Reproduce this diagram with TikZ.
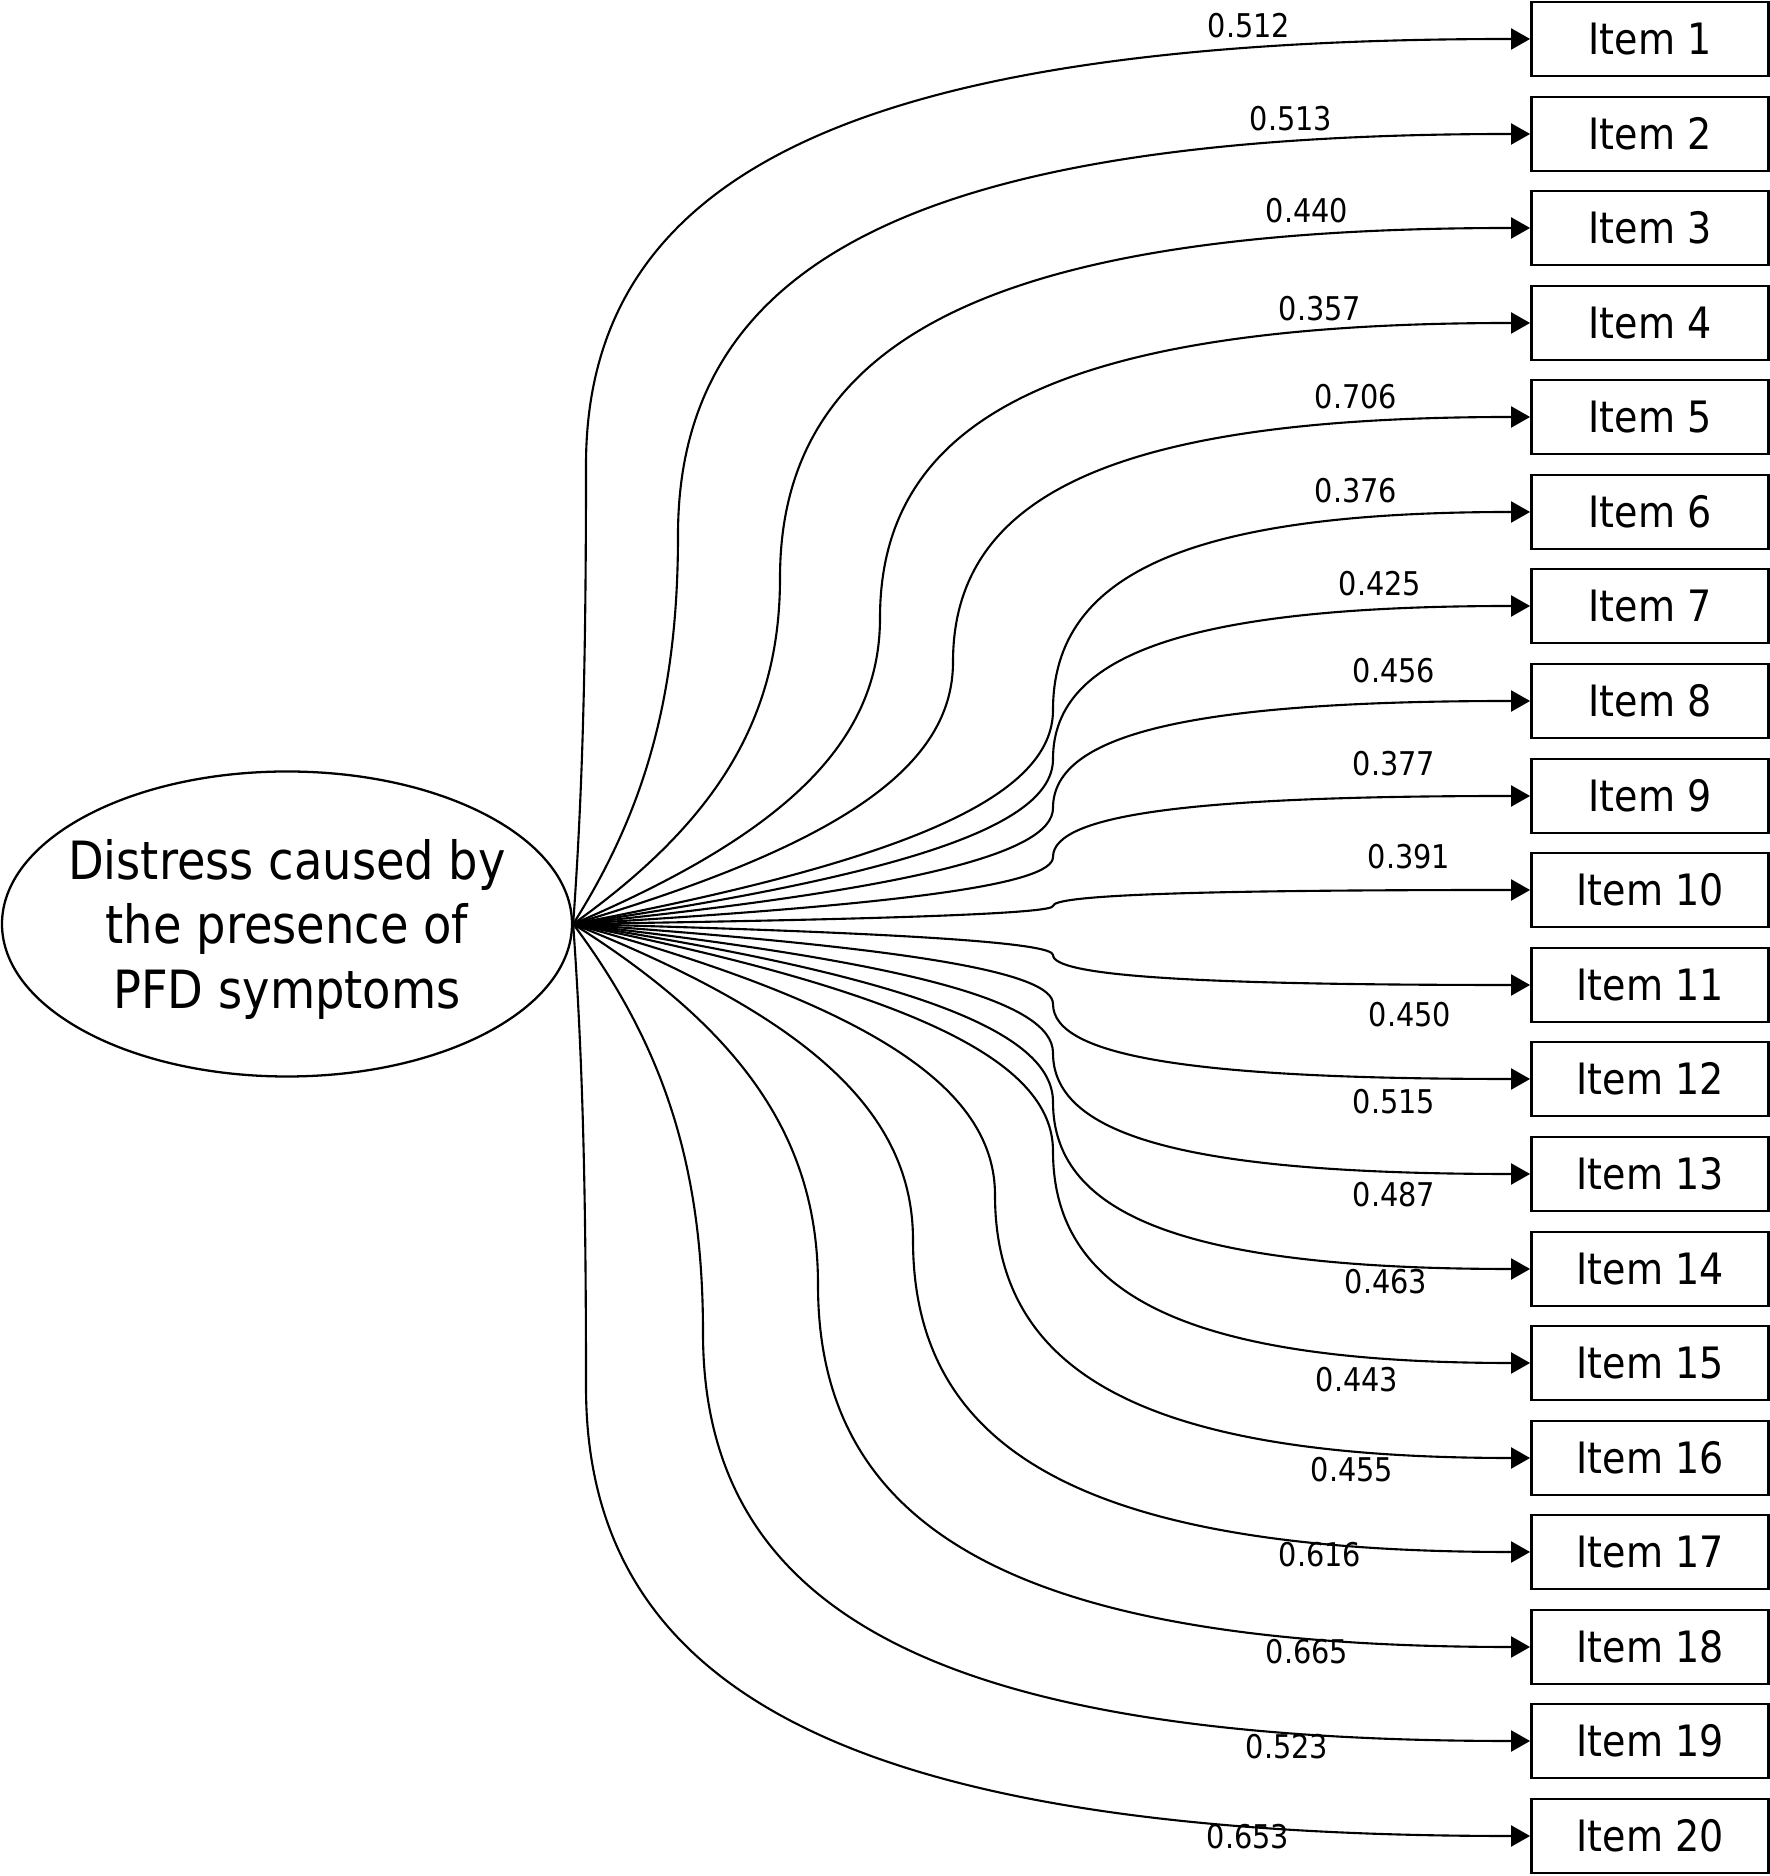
\documentclass[tikz,border=0pt]{standalone}
\usepackage{fontspec}
\setmainfont{DejaVu Sans}[FakeStretch=0.88]
\usetikzlibrary{shapes.geometric,arrows.meta}

\begin{document}
\begin{tikzpicture}[
	item/.style={draw, line width=0.8pt, minimum width=2.37cm, minimum height=0.74cm, inner sep=0pt, font=\fontsize{12.3}{14}\selectfont},
	pfeil/.style={line width=0.6pt, -{Triangle[length=1.9mm, width=2.1mm]}},
	wert/.style={inner sep=0pt, font=\fontsize{9.3}{11}\selectfont}]
	\useasboundingbox (0,0) rectangle (17.70,18.76);
	
	%Faktor
	\node[ellipse, draw, line width=0.65pt, minimum width=5.70cm, minimum height=3.05cm, inner sep=0pt] (dis) at (2.87, 9.52) {};
	\node[align=center, inner sep=0pt, font=\fontsize{15}{18.35}\selectfont] (distext) at ([yshift=-0.05cm]dis.center) {Distress caused by\\the presence of\\PFD symptoms};
	
	%Items
	\node[item] (i1) at (16.50, 18.37) {Item 1};
	\node[item] (i2) at (16.50, 17.42) {Item 2};
	\node[item] (i3) at (16.50, 16.48) {Item 3};
	\node[item] (i4) at (16.50, 15.53) {Item 4};
	\node[item] (i5) at (16.50, 14.59) {Item 5};
	\node[item] (i6) at (16.50, 13.64) {Item 6};
	\node[item] (i7) at (16.50, 12.70) {Item 7};
	\node[item] (i8) at (16.50, 11.75) {Item 8};
	\node[item] (i9) at (16.50, 10.80) {Item 9};
	\node[item] (i10) at (16.50, 9.86) {Item 10};
	\node[item] (i11) at (16.50, 8.91) {Item 11};
	\node[item] (i12) at (16.50, 7.97) {Item 12};
	\node[item] (i13) at (16.50, 7.02) {Item 13};
	\node[item] (i14) at (16.50, 6.07) {Item 14};
	\node[item] (i15) at (16.50, 5.13) {Item 15};
	\node[item] (i16) at (16.50, 4.18) {Item 16};
	\node[item] (i17) at (16.50, 3.24) {Item 17};
	\node[item] (i18) at (16.50, 2.29) {Item 18};
	\node[item] (i19) at (16.50, 1.35) {Item 19};
	\node[item] (i20) at (16.50, 0.40) {Item 20};
	
	%Knickpunkte
	\coordinate (k1) at (5.86, 14.11);
	\coordinate (k2) at (6.78, 13.41);
	\coordinate (k3) at (7.80, 12.98);
	\coordinate (k4) at (8.80, 12.58);
	\coordinate (k5) at (9.53, 12.14);
	\coordinate (k6) at (10.53, 11.66);
	\coordinate (k7) at (10.53, 11.17);
	\coordinate (k8) at (10.53, 10.68);
	\coordinate (k9) at (10.53, 10.19);
	\coordinate (k10) at (10.53, 9.70);
	\coordinate (k11) at (10.53, 9.21);
	\coordinate (k12) at (10.53, 8.72);
	\coordinate (k13) at (10.53, 8.23);
	\coordinate (k14) at (10.53, 7.74);
	\coordinate (k15) at (10.53, 7.25);
	\coordinate (k16) at (9.95, 6.81);
	\coordinate (k17) at (9.13, 6.36);
	\coordinate (k18) at (8.18, 5.91);
	\coordinate (k19) at (7.03, 5.43);
	\coordinate (k20) at (5.86, 4.89);
	
	%Pfeile mit Ladungen
	\draw[pfeil] (dis.east) .. controls +(0.10,1.38) and +(0,-1.84) .. (k1) .. controls +(0,2.98) and +(-6.62,0) .. (i1.west) node[wert] (l1) at (12.49, 18.50) {0.512};
	\draw[pfeil] (dis.east) .. controls +(0.74,1.17) and +(0,-1.56) .. (k2) .. controls +(0,2.81) and +(-5.97,0) .. (i2.west) node[wert] (l2) at (12.91, 17.57) {0.513};
	\draw[pfeil] (dis.east) .. controls +(1.46,1.04) and +(0,-1.38) .. (k3) .. controls +(0,2.45) and +(-5.26,0) .. (i3.west) node[wert] (l3) at (13.07, 16.65) {0.440};
	\draw[pfeil] (dis.east) .. controls +(2.16,0.92) and +(0,-1.22) .. (k4) .. controls +(0,2.07) and +(-4.56,0) .. (i4.west) node[wert] (l4) at (13.20, 15.67) {0.357};
	\draw[pfeil] (dis.east) .. controls +(2.67,0.79) and +(0,-1.05) .. (k5) .. controls +(0,1.72) and +(-4.05,0) .. (i5.west) node[wert] (l5) at (13.56, 14.79) {0.706};
	\draw[pfeil] (dis.east) .. controls +(3.37,0.64) and +(0,-0.86) .. (k6) .. controls +(0,1.39) and +(-3.35,0) .. (i6.west) node[wert] (l6) at (13.56, 13.85) {0.376};
	\draw[pfeil] (dis.east) .. controls +(3.37,0.50) and +(0,-0.66) .. (k7) .. controls +(0,1.07) and +(-3.35,0) .. (i7.west) node[wert] (l7) at (13.80, 12.92) {0.425};
	\draw[pfeil] (dis.east) .. controls +(3.37,0.35) and +(0,-0.46) .. (k8) .. controls +(0,0.75) and +(-3.35,0) .. (i8.west) node[wert] (l8) at (13.94, 12.05) {0.456};
	\draw[pfeil] (dis.east) .. controls +(3.37,0.20) and +(0,-0.27) .. (k9) .. controls +(0,0.43) and +(-3.35,0) .. (i9.west) node[wert] (l9) at (13.94, 11.12) {0.377};
	\draw[pfeil] (dis.east) .. controls +(3.37,0.05) and +(0,-0.07) .. (k10) .. controls +(0,0.11) and +(-3.35,0) .. (i10.west) node[wert] (l10) at (14.09, 10.19) {0.391};
	\draw[pfeil] (dis.east) .. controls +(3.37,-0.09) and +(0,0.12) .. (k11) .. controls +(0,-0.21) and +(-3.35,0) .. (i11.west) node[wert] (l11) at (14.10, 8.61) {0.450};
	\draw[pfeil] (dis.east) .. controls +(3.37,-0.24) and +(0,0.32) .. (k12) .. controls +(0,-0.53) and +(-3.35,0) .. (i12.west) node[wert] (l12) at (13.94, 7.74) {0.515};
	\draw[pfeil] (dis.east) .. controls +(3.37,-0.39) and +(0,0.52) .. (k13) .. controls +(0,-0.85) and +(-3.35,0) .. (i13.west) node[wert] (l13) at (13.94, 6.81) {0.487};
	\draw[pfeil] (dis.east) .. controls +(3.37,-0.53) and +(0,0.71) .. (k14) .. controls +(0,-1.17) and +(-3.35,0) .. (i14.west) node[wert] (l14) at (13.86, 5.94) {0.463};
	\draw[pfeil] (dis.east) .. controls +(3.37,-0.68) and +(0,0.91) .. (k15) .. controls +(0,-1.48) and +(-3.35,0) .. (i15.west) node[wert] (l15) at (13.57, 4.96) {0.443};
	\draw[pfeil] (dis.east) .. controls +(2.96,-0.81) and +(0,1.08) .. (k16) .. controls +(0,-1.84) and +(-3.75,0) .. (i16.west) node[wert] (l16) at (13.52, 4.06) {0.455};
	\draw[pfeil] (dis.east) .. controls +(2.39,-0.95) and +(0,1.26) .. (k17) .. controls +(0,-2.18) and +(-4.33,0) .. (i17.west) node[wert] (l17) at (13.20, 3.21) {0.616};
	\draw[pfeil] (dis.east) .. controls +(1.72,-1.08) and +(0,1.44) .. (k18) .. controls +(0,-2.53) and +(-4.99,0) .. (i18.west) node[wert] (l18) at (13.07, 2.24) {0.665};
	\draw[pfeil] (dis.east) .. controls +(0.92,-1.23) and +(0,1.64) .. (k19) .. controls +(0,-2.86) and +(-5.80,0) .. (i19.west) node[wert] (l19) at (12.87, 1.29) {0.523};
	\draw[pfeil] (dis.east) .. controls +(0.10,-1.39) and +(0,1.85) .. (k20) .. controls +(0,-3.14) and +(-6.62,0) .. (i20.west) node[wert] (l20) at (12.48, 0.39) {0.653};
\end{tikzpicture}
\end{document}
